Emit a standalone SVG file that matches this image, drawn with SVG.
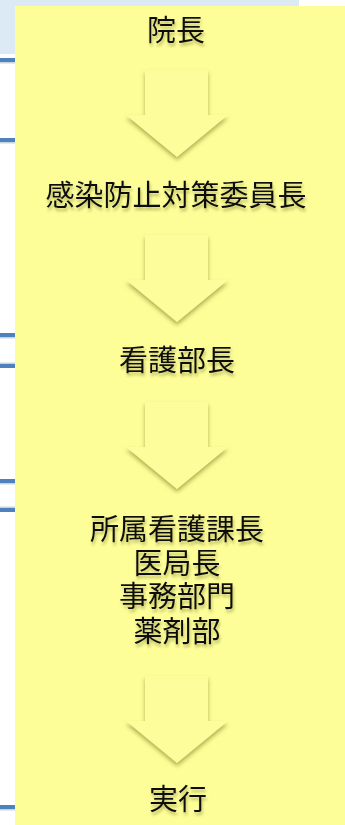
<svg xmlns="http://www.w3.org/2000/svg" width="345" height="825" viewBox="0 0 345 825">
<defs>
<filter id="ts" x="-10%" y="-30%" width="120%" height="180%">
<feDropShadow dx="1" dy="3" stdDeviation="1.6" flood-color="#6b6b20" flood-opacity="0.45"/>
</filter>
<filter id="as" x="-20%" y="-20%" width="140%" height="140%">
<feDropShadow dx="0" dy="3" stdDeviation="2.2" flood-color="#7a7a20" flood-opacity="0.6"/>
</filter>
<path id="arr" d="M145,0 H208 V45 H228 L177,87 L126,45 H145 Z"/>
</defs>
<style>
.lbl{font-family:"Liberation Serif","Noto Sans CJK JP",serif;font-size:29px;fill:#111;text-anchor:middle;dominant-baseline:central;filter:url(#ts)}
.bar{fill:#4f81bd}
.bsh{fill:#c9d3de}
.arrow{fill:#fdfd9c;filter:url(#as)}
</style>
<rect x="0" y="0" width="345" height="825" fill="#ffffff"/>
<rect x="0" y="0" width="299" height="54" fill="#dbeaf4"/>
<g id="side-bars">
<rect class="bar" x="0" y="58" width="16" height="4"/><rect class="bsh" x="0" y="62" width="16" height="1.5"/>
<rect class="bar" x="0" y="138" width="16" height="4"/><rect class="bsh" x="0" y="142" width="16" height="1.5"/>
<rect class="bar" x="0" y="333" width="16" height="4"/><rect class="bsh" x="0" y="337" width="16" height="1.5"/>
<rect class="bar" x="0" y="364" width="16" height="4"/><rect class="bsh" x="0" y="362.5" width="16" height="1.5"/>
<rect class="bar" x="0" y="479" width="16" height="4"/><rect class="bsh" x="0" y="483" width="16" height="1.5"/>
<rect class="bar" x="0" y="508" width="16" height="4"/><rect class="bsh" x="0" y="506.5" width="16" height="1.5"/>
<rect class="bar" x="0" y="805" width="16" height="4"/><rect class="bsh" x="0" y="809" width="16" height="1.5"/>
</g>
<rect id="panel" x="15" y="6" width="330" height="819" fill="#fefe99"/>
<g id="connectors">
<use href="#arr" class="arrow" transform="translate(0,70)"/>
<use href="#arr" class="arrow" transform="translate(0,235)"/>
<use href="#arr" class="arrow" transform="translate(0,402)"/>
<use href="#arr" class="arrow" transform="translate(0,676)"/>
</g>
<g id="n1"><text class="lbl" x="176" y="31">院長</text></g>
<g id="n2"><text class="lbl" x="176" y="196">感染防止対策委員長</text></g>
<g id="n3"><text class="lbl" x="177" y="361">看護部長</text></g>
<g id="n4">
<text class="lbl" x="177" y="530">所属看護課長</text>
<text class="lbl" x="177" y="564">医局長</text>
<text class="lbl" x="177" y="597">事務部門</text>
<text class="lbl" x="177" y="632">薬剤部</text>
</g>
<g id="n5"><text class="lbl" x="178" y="800">実行</text></g>
</svg>
